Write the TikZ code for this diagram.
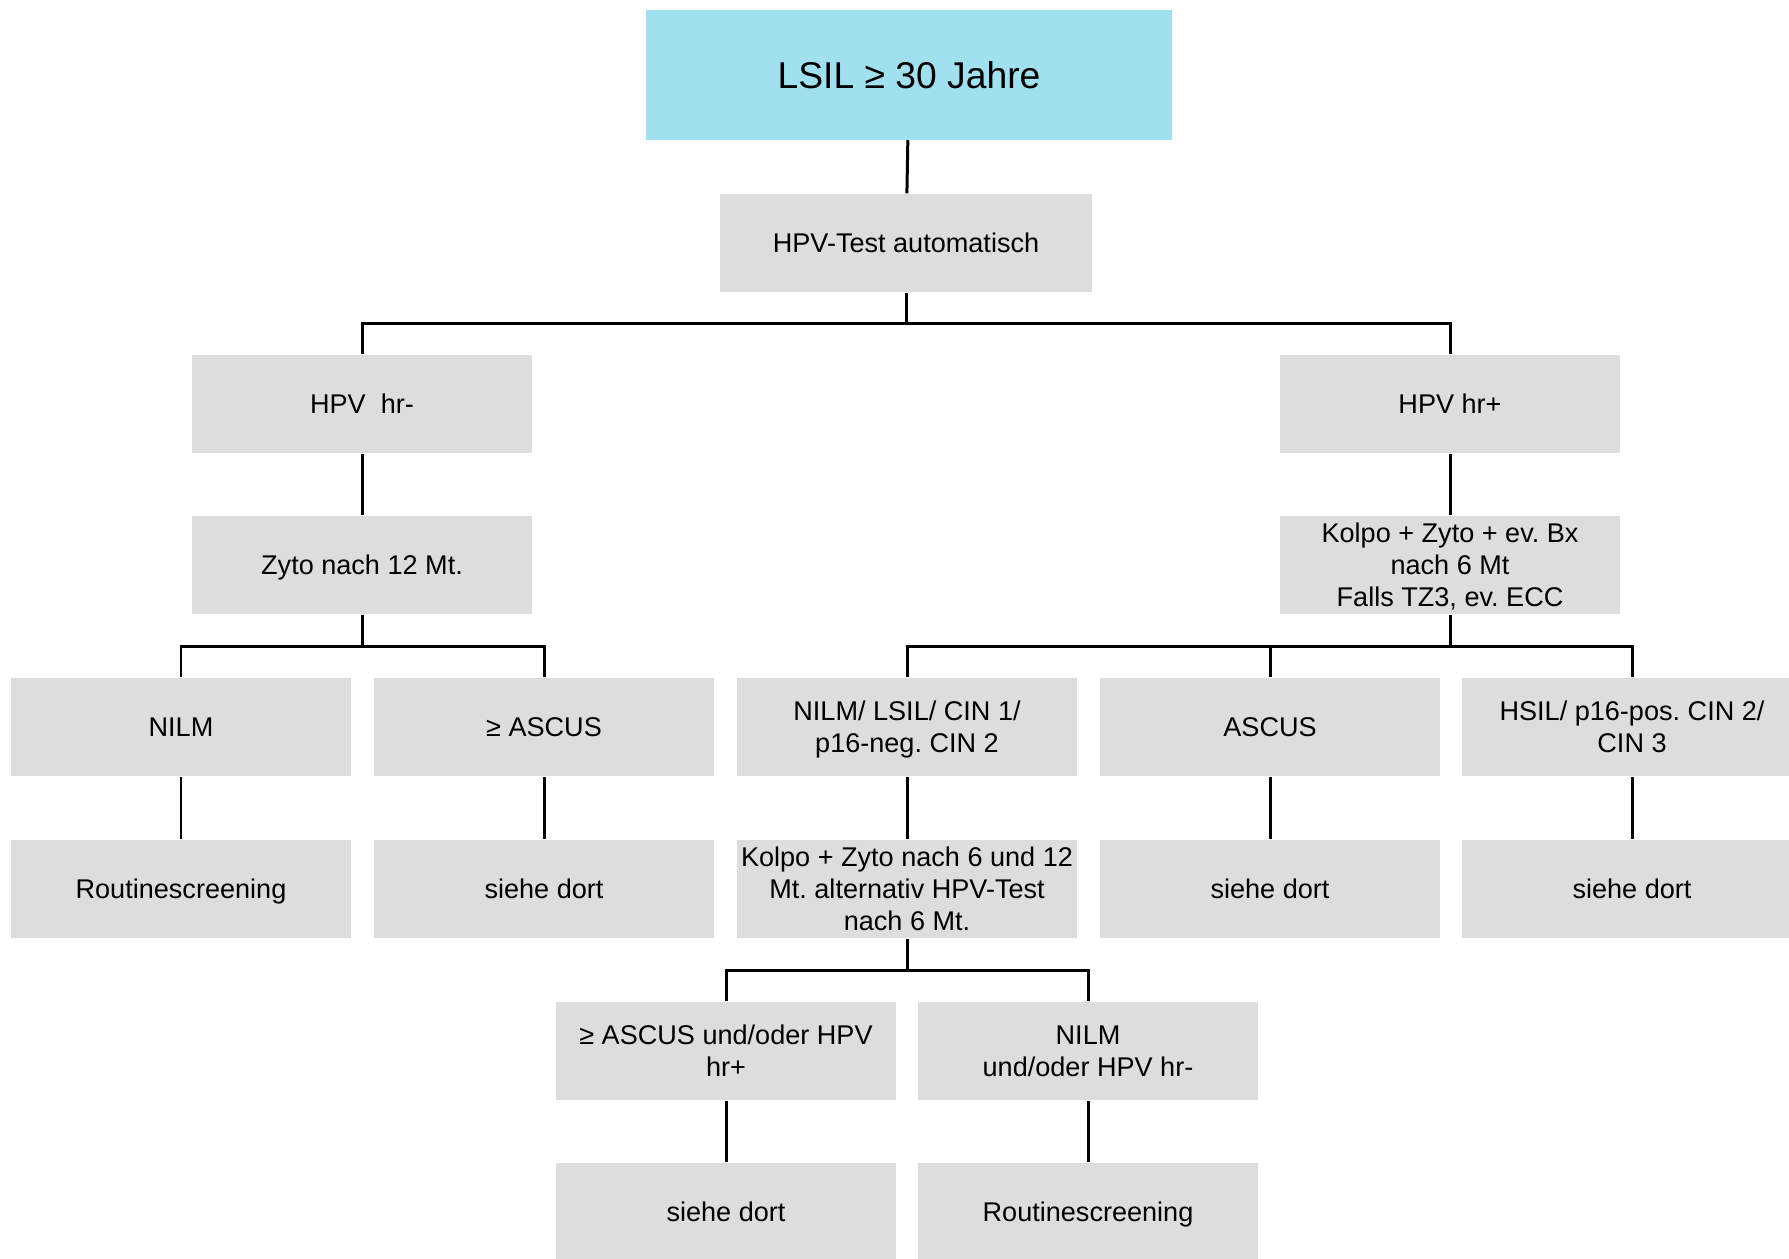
\documentclass[tikz,border=0pt]{standalone}
\usepackage{fontspec}
\setmainfont{Liberation Sans}
\frenchspacing
\definecolor{boxgrey}{RGB}{221,221,221}
\definecolor{titlecyan}{RGB}{161,224,239}
\newcommand\boxstrut{\rule[-2.2pt]{0pt}{9.8pt}}
\tikzset{
  box/.style={fill=boxgrey, minimum width=3.40cm, minimum height=0.98cm,
    align=center, inner sep=0pt,
    execute at begin node=\boxstrut, execute at end node=\boxstrut,
    font=\fontsize{7.7}{9.1}\selectfont},
  conn/.style={line width=0.85pt}
}
\begin{document}
\begin{tikzpicture}[x=0.01cm, y=-0.01cm]
\useasboundingbox (0,0) rectangle (1789,1258);

% ===== Kopf =====
\node[fill=titlecyan, minimum width=5.26cm, minimum height=1.29cm,
  font=\fontsize{10.6}{12}\selectfont] (title) at (909,75) {LSIL ≥ 30 Jahre};

\node[box, minimum width=3.71cm] (hpvtest) at (906,243) {HPV-Test automatisch};

% ===== Zweige =====
\node[box] (neg) at (362,404) {HPV\ \ hr-};
\node[box] (pos) at (1450,404) {HPV hr+};

\node[box] (zyto) at (362,565) {Zyto nach 12 Mt.};
\node[box] (kolpo) at (1450,565) {\boxstrut Kolpo + Zyto + ev. Bx\\ nach 6 Mt\\ Falls TZ3, ev. ECC};

% Zeile 3
\node[box] (nilmA) at (181,727) {NILM};
\node[box] (ascusA) at (544,727) {≥ ASCUS};
\node[box] (nilmB) at (907,727) {\boxstrut NILM/ LSIL/ CIN 1/\\ p16-neg. CIN 2};
\node[box] (ascusB) at (1270,727) {ASCUS};
\node[box] (hsil) at (1632,727) {\boxstrut HSIL/ p16-pos. CIN 2/\\ CIN 3};

% Zeile 4
\node[box] (routineA) at (181,889) {Routinescreening};
\node[box] (siehe1) at (544,889) {siehe dort};
\node[box] (kolpoB) at (907,889) {\boxstrut Kolpo + Zyto nach 6 und 12\\ Mt. alternativ HPV-Test\\ nach 6 Mt.};
\node[box] (siehe2) at (1270,889) {siehe dort};
\node[box] (siehe3) at (1632,889) {siehe dort};

% Zeile 5
\node[box] (ascusC) at (726,1051) {\boxstrut ≥ ASCUS und/oder HPV\\ hr+};
\node[box] (nilmC) at (1088,1051) {\boxstrut NILM\\ und/oder HPV hr-};

% Zeile 6
\node[box] (siehe4) at (726,1212) {siehe dort};
\node[box] (routineB) at (1088,1212) {Routinescreening};

% ===== Linien =====
\draw[conn] (title) -- (hpvtest);
\draw[conn] (hpvtest.south) -- ++(0,31) -| (neg.north);
\draw[conn] (hpvtest.south) -- ++(0,31) -| (pos.north);

\draw[conn] (neg) -- (zyto);
\draw[conn] (pos) -- (kolpo);

\draw[conn] (zyto.south) -- ++(0,32) -| (nilmA.north);
\draw[conn] (zyto.south) -- ++(0,32) -| (ascusA.north);

\draw[conn] (kolpo.south) -- ++(0,32) -| (nilmB.north);
\draw[conn] (kolpo.south) -- ++(0,32) -| (ascusB.north);
\draw[conn] (kolpo.south) -- ++(0,32) -| (hsil.north);

\draw[conn] (nilmA) -- (routineA);
\draw[conn] (ascusA) -- (siehe1);
\draw[conn] (nilmB) -- (kolpoB);
\draw[conn] (ascusB) -- (siehe2);
\draw[conn] (hsil) -- (siehe3);

\draw[conn] (kolpoB.south) -- ++(0,32) -| (ascusC.north);
\draw[conn] (kolpoB.south) -- ++(0,32) -| (nilmC.north);

\draw[conn] (ascusC) -- (siehe4);
\draw[conn] (nilmC) -- (routineB);

\end{tikzpicture}
\end{document}
